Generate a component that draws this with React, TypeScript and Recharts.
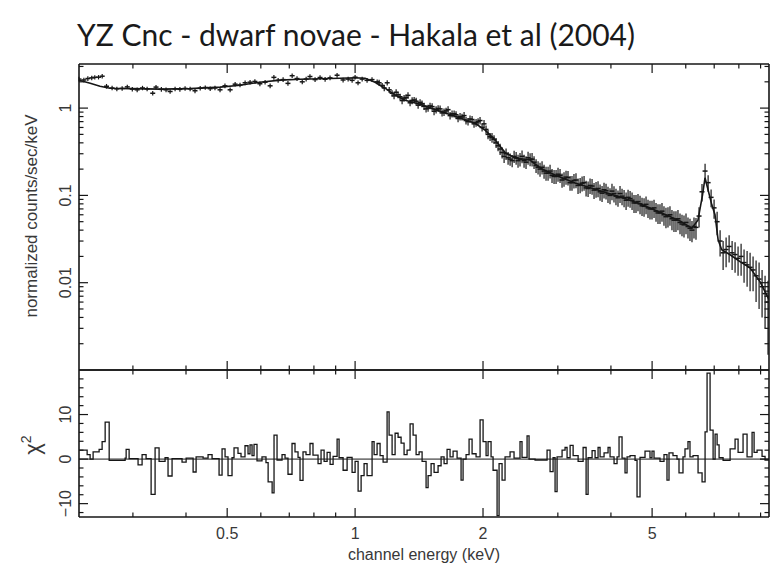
import React from 'react';
import { ComposedChart, Line, Scatter, ErrorBar, XAxis, YAxis } from 'recharts';

// ---------- data ----------
const specEnergy = [
  0.224, 0.230, 0.235, 0.240, 0.244, 0.249, 0.254, 0.260, 0.268, 0.275, 0.283, 0.291, 0.299, 0.307, 0.316, 0.324,
  0.334, 0.340, 0.350, 0.359, 0.367, 0.377, 0.387, 0.398, 0.409, 0.420, 0.432, 0.444, 0.456, 0.468, 0.481, 0.494,
  0.508, 0.522, 0.536, 0.551, 0.566, 0.581, 0.597, 0.614, 0.631, 0.644, 0.659, 0.677, 0.695, 0.711, 0.730, 0.751,
  0.767, 0.783, 0.805, 0.827, 0.850, 0.873, 0.907, 0.937, 0.963, 0.984, 1.000, 1.016, 1.039, 1.067, 1.096, 1.127,
  1.158, 1.190, 1.222, 1.249, 1.276, 1.304, 1.332, 1.362, 1.392, 1.422, 1.453, 1.485, 1.518, 1.551, 1.585, 1.619,
  1.655, 1.691, 1.728, 1.766, 1.805, 1.844, 1.885, 1.926, 1.968, 2.011, 2.055, 2.100, 2.147, 2.194, 2.242, 2.291,
  2.342, 2.393, 2.444, 2.498, 2.553, 2.609, 2.666, 2.724, 2.784, 2.845, 2.907, 2.971, 3.036, 3.102, 3.170, 3.239,
  3.310, 3.385, 3.458, 3.534, 3.611, 3.690, 3.771, 3.853, 3.937, 4.023, 4.111, 4.202, 4.295, 4.389, 4.485, 4.582,
  4.683, 4.786, 4.890, 4.997, 5.107, 5.218, 5.332, 5.449, 5.568, 5.690, 5.816, 5.943, 6.073, 6.206, 6.342, 6.448,
  6.552, 6.662, 6.773, 6.883, 6.995, 7.111, 7.227, 7.346, 7.466, 7.589, 7.713, 7.838, 7.966, 8.098, 8.229, 8.366,
  8.502, 8.641, 8.783, 8.927, 9.073, 9.221, 9.370,
];
const specCounts = [
  2.15, 2.10, 2.18, 2.22, 2.25, 2.26, 2.32, 1.78, 1.70, 1.66, 1.68, 1.75, 1.65, 1.62, 1.70, 1.66,
  1.48, 1.74, 1.64, 1.62, 1.55, 1.66, 1.64, 1.68, 1.66, 1.58, 1.69, 1.72, 1.67, 1.70, 1.62, 1.80,
  1.62, 1.88, 1.84, 1.95, 1.98, 2.02, 1.90, 1.98, 1.80, 2.25, 2.08, 2.12, 1.92, 2.35, 2.18, 2.00,
  2.15, 2.30, 2.12, 2.24, 2.14, 2.22, 2.38, 2.10, 2.15, 2.08, 2.26, 1.95, 2.15, 2.08, 2.12, 2.00,
  1.82, 1.95, 1.48, 1.52, 1.35, 1.30, 1.40, 1.22, 1.20, 1.16, 1.05, 1.00, 1.04, 0.96, 0.98, 0.90,
  0.96, 0.86, 0.84, 0.80, 0.82, 0.70, 0.74, 0.68, 0.72, 0.66, 0.50, 0.46, 0.40, 0.34, 0.28, 0.27,
  0.25, 0.27, 0.26, 0.25, 0.27, 0.26, 0.22, 0.20, 0.19, 0.18, 0.17, 0.165, 0.17, 0.155, 0.16, 0.14,
  0.15, 0.132, 0.14, 0.12, 0.128, 0.118, 0.11, 0.116, 0.104, 0.112, 0.098, 0.105, 0.094, 0.095, 0.088, 0.082,
  0.080, 0.075, 0.072, 0.070, 0.066, 0.063, 0.060, 0.058, 0.054, 0.052, 0.049, 0.046, 0.044, 0.040, 0.043, 0.058,
  0.11, 0.19, 0.14, 0.095, 0.072, 0.05, 0.030, 0.022, 0.024, 0.026, 0.022, 0.021, 0.019, 0.020, 0.017, 0.016,
  0.015, 0.014, 0.012, 0.011, 0.009, 0.0075, 0.006,
];
const specError = [
  0.13, 0.13, 0.13, 0.13, 0.13, 0.13, 0.14, 0.11, 0.10, 0.10, 0.10, 0.10, 0.10, 0.10, 0.10, 0.10,
  0.09, 0.10, 0.10, 0.10, 0.09, 0.10, 0.10, 0.10, 0.10, 0.10, 0.10, 0.10, 0.10, 0.10, 0.10, 0.11,
  0.10, 0.11, 0.11, 0.12, 0.12, 0.12, 0.12, 0.12, 0.11, 0.14, 0.13, 0.13, 0.12, 0.14, 0.13, 0.12,
  0.13, 0.14, 0.13, 0.14, 0.13, 0.14, 0.15, 0.13, 0.13, 0.13, 0.14, 0.12, 0.13, 0.13, 0.13, 0.13,
  0.12, 0.13, 0.12, 0.12, 0.11, 0.11, 0.12, 0.11, 0.11, 0.10, 0.10, 0.09, 0.10, 0.09, 0.09, 0.09,
  0.09, 0.08, 0.08, 0.08, 0.08, 0.07, 0.07, 0.07, 0.07, 0.07, 0.06, 0.06, 0.05, 0.05, 0.045, 0.045,
  0.04, 0.045, 0.045, 0.042, 0.046, 0.045, 0.04, 0.036, 0.035, 0.033, 0.031, 0.03, 0.031, 0.029, 0.03, 0.027,
  0.029, 0.026, 0.027, 0.024, 0.026, 0.024, 0.023, 0.024, 0.022, 0.024, 0.021, 0.023, 0.021, 0.021, 0.02, 0.019,
  0.019, 0.018, 0.017, 0.017, 0.016, 0.016, 0.015, 0.015, 0.014, 0.014, 0.013, 0.013, 0.012, 0.011, 0.012, 0.015,
  0.025, 0.04, 0.03, 0.022, 0.018, 0.015, 0.01, 0.008, 0.009, 0.009, 0.008, 0.008, 0.007, 0.008, 0.007, 0.007,
  0.007, 0.006, 0.006, 0.006, 0.005, 0.0045, 0.0045,
];

// interleaved channels (1.1 - 6.3 keV), where the spectrum is densest
const specEnergyB = [
  1.139, 1.171, 1.203, 1.235, 1.262, 1.290, 1.318, 1.347, 1.377, 1.407,
  1.437, 1.469, 1.501, 1.534, 1.568, 1.602, 1.637, 1.673, 1.710, 1.747,
  1.785, 1.824, 1.864, 1.905, 1.947, 1.990, 2.033, 2.078, 2.123, 2.170,
  2.218, 2.266, 2.316, 2.367, 2.418, 2.471, 2.525, 2.581, 2.637, 2.695,
  2.754, 2.814, 2.876, 2.939, 3.003, 3.069, 3.136, 3.205, 3.274, 3.347,
  3.421, 3.496, 3.572, 3.650, 3.730, 3.812, 3.895, 3.980, 4.067, 4.156,
  4.248, 4.342, 4.437, 4.533, 4.632, 4.734, 4.838, 4.943, 5.052, 5.162,
  5.275, 5.390, 5.508, 5.629, 5.752, 5.879, 6.008, 6.139, 6.274,
];
const specCountsB = [
  1.95, 1.70, 1.62, 1.38, 1.42, 1.22, 1.32, 1.15, 1.24, 1.08,
  1.12, 0.98, 1.06, 0.92, 0.99, 0.88, 0.93, 0.82, 0.86, 0.76,
  0.79, 0.72, 0.75, 0.66, 0.70, 0.60, 0.57, 0.47, 0.44, 0.37,
  0.31, 0.30, 0.26, 0.28, 0.25, 0.28, 0.24, 0.26, 0.24, 0.21,
  0.21, 0.18, 0.19, 0.165, 0.175, 0.15, 0.162, 0.14, 0.148, 0.13,
  0.138, 0.122, 0.13, 0.115, 0.12, 0.106, 0.113, 0.10, 0.105, 0.094,
  0.098, 0.088, 0.092, 0.082, 0.085, 0.076, 0.079, 0.070, 0.072, 0.063,
  0.066, 0.057, 0.060, 0.052, 0.054, 0.047, 0.049, 0.042, 0.044,
];
const specErrorB = [
  0.16, 0.14, 0.13, 0.12, 0.12, 0.11, 0.11, 0.10, 0.10, 0.10,
  0.10, 0.09, 0.09, 0.09, 0.09, 0.08, 0.08, 0.08, 0.08, 0.07,
  0.07, 0.07, 0.07, 0.065, 0.065, 0.06, 0.06, 0.05, 0.05, 0.05,
  0.045, 0.045, 0.042, 0.045, 0.042, 0.046, 0.04, 0.044, 0.04, 0.036,
  0.036, 0.033, 0.034, 0.03, 0.032, 0.028, 0.03, 0.027, 0.028, 0.026,
  0.027, 0.025, 0.026, 0.024, 0.025, 0.022, 0.023, 0.021, 0.022, 0.02,
  0.021, 0.02, 0.02, 0.019, 0.019, 0.018, 0.018, 0.017, 0.017, 0.016,
  0.016, 0.015, 0.015, 0.014, 0.014, 0.013, 0.013, 0.012, 0.012,
];

const modelEnergy = [
  0.224, 0.238, 0.251, 0.265, 0.296, 0.348, 0.409, 0.481, 0.536, 0.597, 0.666, 0.742, 0.827, 0.922, 1.0, 1.056,
  1.114, 1.176, 1.242, 1.311, 1.422, 1.585, 1.766, 1.916, 2.023, 2.135, 2.254, 2.379, 2.581, 2.724, 2.955, 3.295,
  3.771, 4.202, 4.683, 5.218, 5.816, 6.2, 6.41, 6.57, 6.66, 6.77, 6.91, 7.03, 7.15, 7.29, 7.63, 8.05,
  8.50, 8.97, 9.42,
];
const modelCounts = [
  2.09, 1.93, 1.78, 1.69, 1.67, 1.65, 1.67, 1.74, 1.83, 1.98, 2.09, 2.14, 2.17, 2.20, 2.23, 2.20,
  1.98, 1.69, 1.41, 1.23, 1.11, 0.92, 0.77, 0.67, 0.56, 0.43, 0.31, 0.268, 0.254, 0.206, 0.171, 0.139,
  0.113, 0.096, 0.080, 0.064, 0.051, 0.042, 0.052, 0.101, 0.159, 0.116, 0.078, 0.060, 0.031, 0.0239, 0.0209, 0.0174,
  0.0148, 0.0103, 0.0064,
];

const residEnergy = [
  0.2242, 0.2341, 0.2379, 0.2418, 0.2498, 0.2539, 0.2581, 0.2638, 0.2876, 0.2892, 0.2939, 0.3085, 0.3153, 0.3222, 0.3311, 0.3383,
  0.3457, 0.3571, 0.3629, 0.3709, 0.3915, 0.4003, 0.4157, 0.4225, 0.4388, 0.4508, 0.4607, 0.4785, 0.4863, 0.4943, 0.5023, 0.5133,
  0.5189, 0.5302, 0.5389, 0.5507, 0.5598, 0.5659, 0.5721, 0.5783, 0.5877, 0.6038, 0.6170, 0.6242, 0.6379, 0.6445, 0.6551, 0.6731,
  0.6841, 0.6952, 0.7105, 0.7221, 0.7340, 0.7420, 0.7541, 0.7664, 0.7832, 0.7960, 0.8181, 0.8315, 0.8454, 0.8593, 0.8733, 0.8876,
  0.9071, 0.9169, 0.9371, 0.9576, 0.9838, 1.0, 1.0164, 1.0331, 1.0499, 1.0671, 1.0964, 1.1084, 1.1265, 1.1450, 1.1638, 1.1893,
  1.2023, 1.2220, 1.2420, 1.2623, 1.2830, 1.3040, 1.3254, 1.3471, 1.3693, 1.3917, 1.4145, 1.4377, 1.4691, 1.4852, 1.5095, 1.5342,
  1.5678, 1.5935, 1.6196, 1.6461, 1.6730, 1.7006, 1.7378, 1.7758, 1.7952, 1.8246, 1.8545, 1.8849, 1.9261, 1.9684, 2.0008, 2.0335,
  2.0555, 2.0891, 2.1121, 2.1584, 2.1818, 2.2175, 2.2536, 2.3157, 2.3662, 2.4441, 2.4707, 2.5393, 2.5668, 2.6516, 2.8300, 2.8765,
  2.9235, 2.9553, 2.9875, 3.0696, 3.1198, 3.1538, 3.2063, 3.2590, 3.3484, 3.4403, 3.4965, 3.5342, 3.6117, 3.6707, 3.7307, 3.7713,
  3.8539, 3.9382, 3.9811, 4.0684, 4.1350, 4.1798, 4.2482, 4.3178, 4.3649, 4.4367, 4.5582, 4.6079, 4.6832, 4.8117, 4.9431, 4.9970,
  5.0518, 5.2184, 5.3327, 5.4200, 5.4794, 5.5988, 5.7216, 5.7845, 5.9109, 5.9753, 6.0729, 6.1391, 6.2416, 6.4136, 6.5543, 6.6620,
  6.7346, 6.8453, 6.9582, 7.0340, 7.1107, 7.1878, 7.3455, 7.6297, 7.8380, 7.9669, 8.1845, 8.3639, 8.5946, 8.6888, 8.8309, 9.0721,
  9.2213, 9.42,
];
const residChi = [
  2.0, 1.0, 0, 1.6, 2.2, 3.9, 8.3, -0.3, 0.2, 2.2, 0.1, -1.3, 1.0, 0.1, -7.9, 2.5,
  -0.5, 0.3, -3.8, 0.1, -0.7, 0.2, -2.9, 0.5, 0.2, 1.0, 0.1, -3.6, 2.3, 0.5, -3.7, 0.3,
  2.5, 1.3, 0.5, 3.0, 1.2, 3.2, 0.8, 3.3, -0.4, 0.5, -0.8, -5.1, -7.6, 5.4, -0.2, 1.0,
  0.2, -3.4, 3.5, 1.6, 0.4, -4.8, 1.6, 1.0, 3.5, 0.9, -1.0, 2.0, -0.5, 1.5, -1.2, 0.6,
  4.5, 0.3, -2.5, 0.4, -3.0, -0.5, -7.2, -3.7, -1.0, -3.7, 3.9, 1.0, 3.5, 0.8, -0.7, 10.6,
  5.4, 1.0, 5.8, 4.9, 3.6, 1.0, 2.0, 7.9, 5.4, 1.0, 1.6, -0.5, -6.4, -3.7, -1.0, -3.0,
  -1.5, 0.5, -1.0, 2.2, 0.5, 1.8, 0.2, -4.7, 0.0, 1.0, 4.5, 1.2, 0.5, 8.8, 3.9, 0.8,
  3.9, 0.5, -2.5, -12.7, -1.0, -4.7, 0.5, 1.6, 0.2, 3.9, 0.4, 5.2, 0.0, -0.2, 2.0, -2.8,
  0.3, -7.3, 0.5, 2.0, 2.6, 0.3, 3.1, 0.8, -0.5, 2.6, -7.9, 0.3, 1.9, 0.3, 2.6, 0.5,
  1.4, 2.6, 0.5, -1.0, 0.5, 5.0, 0.2, -3.1, 0.5, 0.8, -0.3, -8.5, 0.4, 1.8, 0.3, 1.8,
  0.2, -0.5, 1.0, -4.7, 1.4, 0.8, 0.0, -3.1, 0.5, 2.3, 3.9, 0.5, 0.8, -3.1, -5.1, 6.1,
  19.3, 6.5, 0.0, 5.6, 3.2, 0.3, -0.3, 2.3, 4.5, 1.5, 5.6, 0.5, 6.0, 1.5, 2.0, 0.6,
  -0.2, -0.2,
];

const zeroEnergy = [0.224, 9.42];
const zeroChi = [0, 0];

const xMajorTicks = [0.5, 1, 2, 5];
const xMinorTicks = [0.3, 0.4, 0.6, 0.7, 0.8, 0.9, 3, 4, 6, 7, 8, 9];
const xTickLabels: Record<string, string> = { '0.5': '0.5', '1': '1', '2': '2', '5': '5' };

const specMajorTicks = [0.01, 0.1, 1];
const specMinorTicks = [
  0.002, 0.003, 0.004, 0.005, 0.006, 0.007, 0.008, 0.009,
  0.02, 0.03, 0.04, 0.05, 0.06, 0.07, 0.08, 0.09,
  0.2, 0.3, 0.4, 0.5, 0.6, 0.7, 0.8, 0.9, 2, 3,
];
const specTickLabels: Record<string, string> = { '0.01': '0.01', '0.1': '0.1', '1': '1' };

const chiMajorTicks = [-10, 0, 10];
const chiMinorTicks = [-12, -8, -6, -4, -2, 2, 4, 6, 8, 12, 14, 16, 18];
const chiTickLabels: Record<string, string> = { '-10': '\u221210', '0': '0', '10': '10' };

const X_DOMAIN = [0.224, 9.42];
const SPEC_DOMAIN = [0.001, 3.2];
const CHI_DOMAIN = [-13, 20];

// ---------- derived tables ----------
const spectrum = [
  ...specEnergy.map((e, i) => ({ e, v: specCounts[i], err: specError[i] })),
  ...specEnergyB.map((e, i) => ({ e, v: specCountsB[i], err: specErrorB[i] })),
];
const model = modelEnergy.map((e, i) => ({ e, v: modelCounts[i] }));
const resid = residEnergy.map((e, i) => ({ e, c: residChi[i] }));
const zeroLine = zeroEnergy.map((e, i) => ({ e, c: zeroChi[i] }));

const xTicks = [...xMinorTicks, ...xMajorTicks].sort((a, b) => a - b);
const specTicks = [...specMinorTicks, ...specMajorTicks].sort((a, b) => a - b);
const chiTicks = [...chiMinorTicks, ...chiMajorTicks].sort((a, b) => a - b);

// ---------- styles ----------
const INK = '#161616';
const LABEL = '#383838';
const FONT = '"Liberation Sans", Arial, Helvetica, sans-serif';
const AXIS_LINE = { stroke: INK, strokeWidth: 1.6 };

type Side = 'bottom' | 'top' | 'left' | 'right';

function makeTick(side: Side, majors: number[], labels: Record<string, string> | null) {
  return function Tick(props: any) {
    const { x, y, payload } = props;
    const v = Number(payload && payload.value);
    const isMajor = majors.some((m) => Math.abs(m - v) < 1e-9);
    const len = isMajor ? 9 : 4.5;
    let x2 = x;
    let y2 = y;
    if (side === 'bottom') y2 = y - len;
    if (side === 'top') y2 = y + len;
    if (side === 'left') x2 = x + len;
    if (side === 'right') x2 = x - len;
    const label = isMajor && labels ? labels[String(v)] : undefined;
    return (
      <g>
        <line x1={x} y1={y} x2={x2} y2={y2} stroke={INK} strokeWidth={1.2} />
        {label !== undefined && side === 'bottom' && (
          <text x={x} y={y + 22} textAnchor="middle" fontSize={16} fill={LABEL} fontFamily={FONT}>
            {label}
          </text>
        )}
        {label !== undefined && side === 'left' && (
          <text
            transform={`translate(${x - 8},${y}) rotate(-90)`}
            textAnchor="middle"
            fontSize={16}
            fill={LABEL}
            fontFamily={FONT}
          >
            {label}
          </text>
        )}
      </g>
    );
  };
}

const DataMark = (p: any) => (
  <path d={`M${p.cx - 2.5},${p.cy}H${p.cx + 2.5}`} stroke={INK} strokeWidth={1.5} fill="none" />
);

function axisCommon() {
  return {
    interval: 0 as const,
    tickSize: 0,
    tickMargin: 0,
    tickLine: false,
    axisLine: AXIS_LINE,
    allowDataOverflow: true,
  };
}

export default function App() {
  return (
    <div style={{ position: 'absolute', left: 0, top: 0, width: 772, height: 565, background: '#fff' }}>
      {/* upper panel: spectrum */}
      <div style={{ position: 'absolute', left: 0, top: 0 }}>
        <ComposedChart width={772} height={380} margin={{ top: 63, right: 2, bottom: 9, left: 78 }}>
          <XAxis
            {...axisCommon()}
            dataKey="e"
            type="number"
            scale="log"
            domain={X_DOMAIN}
            ticks={xTicks}
            height={1}
            tick={makeTick('bottom', xMajorTicks, null)}
          />
          <XAxis
            {...axisCommon()}
            xAxisId="t"
            orientation="top"
            dataKey="e"
            type="number"
            scale="log"
            domain={X_DOMAIN}
            ticks={xTicks}
            height={1}
            tick={makeTick('top', xMajorTicks, null)}
          />
          <YAxis
            {...axisCommon()}
            dataKey="v"
            type="number"
            scale="log"
            domain={SPEC_DOMAIN}
            ticks={specTicks}
            width={1}
            tick={makeTick('left', specMajorTicks, specTickLabels)}
          />
          <YAxis
            {...axisCommon()}
            yAxisId="r"
            orientation="right"
            dataKey="v"
            type="number"
            scale="log"
            domain={SPEC_DOMAIN}
            ticks={specTicks}
            width={1}
            tick={makeTick('right', specMajorTicks, null)}
          />
          <Scatter data={spectrum} dataKey="v" shape={DataMark} isAnimationActive={false}>
            <ErrorBar dataKey="err" direction="y" width={0} stroke={INK} strokeWidth={1.2} isAnimationActive={false} />
          </Scatter>
          <Line
            data={model}
            dataKey="v"
            xAxisId="t"
            yAxisId="r"
            type="linear"
            dot={false}
            stroke={INK}
            strokeWidth={1.6}
            isAnimationActive={false}
          />
        </ComposedChart>
      </div>

      {/* lower panel: residuals */}
      <div style={{ position: 'absolute', left: 0, top: 360 }}>
        <ComposedChart width={772} height={205} margin={{ top: 9, right: 2, bottom: 47, left: 78 }}>
          <XAxis
            {...axisCommon()}
            dataKey="e"
            type="number"
            scale="log"
            domain={X_DOMAIN}
            ticks={xTicks}
            height={1}
            tick={makeTick('bottom', xMajorTicks, xTickLabels)}
          />
          <XAxis
            {...axisCommon()}
            xAxisId="t"
            orientation="top"
            dataKey="e"
            type="number"
            scale="log"
            domain={X_DOMAIN}
            ticks={xTicks}
            height={1}
            tick={makeTick('top', xMajorTicks, null)}
          />
          <YAxis
            {...axisCommon()}
            dataKey="c"
            type="number"
            domain={CHI_DOMAIN}
            ticks={chiTicks}
            width={1}
            tick={makeTick('left', chiMajorTicks, chiTickLabels)}
          />
          <YAxis
            {...axisCommon()}
            yAxisId="r"
            orientation="right"
            dataKey="c"
            type="number"
            domain={CHI_DOMAIN}
            ticks={chiTicks}
            width={1}
            tick={makeTick('right', chiMajorTicks, null)}
          />
          <Line
            data={zeroLine}
            dataKey="c"
            xAxisId="t"
            yAxisId="r"
            type="linear"
            dot={false}
            stroke={INK}
            strokeWidth={1}
            isAnimationActive={false}
          />
          <Line
            data={resid}
            dataKey="c"
            type="stepAfter"
            dot={false}
            stroke={INK}
            strokeWidth={1.3}
            isAnimationActive={false}
          />
        </ComposedChart>
      </div>

      {/* titles */}
      <svg
        width={772}
        height={565}
        style={{ position: 'absolute', left: 0, top: 0, pointerEvents: 'none' }}
      >
        <text x={77} y={46} fontFamily="Lato, 'Open Sans', sans-serif" fontSize={30} fill="#1a1a1a">
          YZ Cnc - dwarf novae - Hakala et al (2004)
        </text>
        <text
          transform="translate(37,216) rotate(-90)"
          textAnchor="middle"
          fontSize={17}
          fill={LABEL}
          fontFamily={FONT}
        >
          normalized counts/sec/keV
        </text>
        <text
          transform="translate(40,445) rotate(-90)"
          textAnchor="middle"
          fontSize={22}
          fill={LABEL}
          fontFamily={FONT}
        >
          χ<tspan fontSize={14} dy={-9}>2</tspan>
        </text>
        <text x={424} y={560} textAnchor="middle" fontSize={16} fill={LABEL} fontFamily={FONT}>
          channel energy (keV)
        </text>
      </svg>
    </div>
  );
}
